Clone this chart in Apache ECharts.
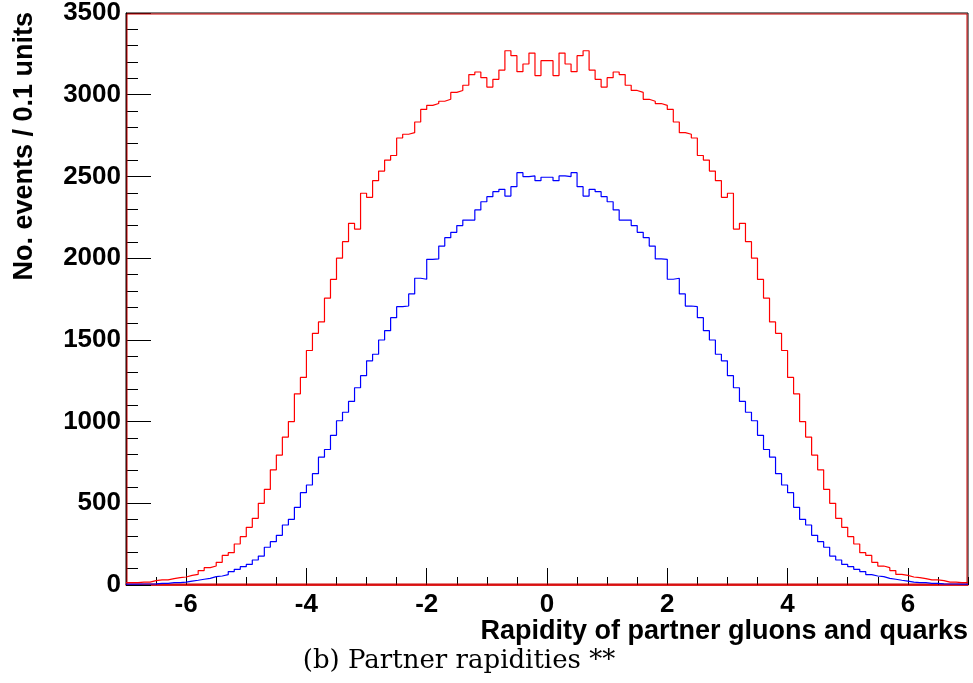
<!DOCTYPE html>
<html>
<head>
<meta charset="utf-8">
<script src="https://cdn.jsdelivr.net/npm/echarts@6/dist/echarts.min.js"></script>
<style>
  html, body { margin: 0; padding: 0; background: #ffffff; }
  #chart { width: 973px; height: 683px; }
</style>
</head>
<body>
<div id="chart"></div>
<script>
// Histogram binning: 140 bins of 0.1 units from -7 to 7
const binLow = -7;
const binWidth = 0.1;

// Red histogram (counts per 0.1 units)
const redCounts = [
  14, 14, 18, 18, 27, 31, 31, 39, 45, 49,
  59, 65, 88, 106, 116, 139, 181, 198, 251, 296,
  353, 408, 500, 585, 705, 795, 905, 1000, 1170, 1270,
  1435, 1540, 1610, 1755, 1870, 2000, 2101, 2213, 2178, 2397,
  2372, 2474, 2533, 2600, 2628, 2735, 2758, 2768, 2833, 2910,
  2935, 2946, 2960, 2972, 3014, 3026, 3058, 3123, 3139, 3104,
  3047, 3094, 3151, 3269, 3239, 3141, 3188, 3255, 3117, 3208,
  3208, 3117, 3255, 3188, 3141, 3239, 3269, 3151, 3094, 3047,
  3104, 3139, 3123, 3058, 3026, 3014, 2972, 2960, 2946, 2935,
  2910, 2833, 2768, 2758, 2735, 2628, 2600, 2533, 2474, 2372,
  2397, 2178, 2213, 2101, 2000, 1870, 1755, 1610, 1540, 1435,
  1270, 1170, 1000, 905, 795, 705, 585, 500, 408, 353,
  296, 251, 198, 181, 139, 116, 106, 88, 65, 59,
  49, 45, 39, 31, 31, 27, 18, 18, 14, 14
];

// Blue histogram (counts per 0.1 units)
const blueCounts = [
  5, 5, 6, 6, 7, 10, 10, 14, 14, 18,
  24, 29, 35, 41, 51, 55, 63, 82, 96, 112,
  126, 153, 177, 231, 265, 304, 367, 402, 475, 565,
  612, 681, 782, 829, 916, 1005, 1057, 1123, 1207, 1281,
  1372, 1412, 1499, 1556, 1636, 1703, 1707, 1781, 1877, 1871,
  1993, 1995, 2074, 2125, 2158, 2199, 2233, 2233, 2295, 2345,
  2376, 2407, 2421, 2380, 2437, 2523, 2499, 2503, 2474, 2495,
  2495, 2474, 2503, 2499, 2523, 2437, 2380, 2421, 2407, 2376,
  2345, 2295, 2233, 2233, 2199, 2158, 2125, 2074, 1995, 1993,
  1871, 1877, 1781, 1707, 1703, 1636, 1556, 1499, 1412, 1372,
  1281, 1207, 1123, 1057, 1005, 916, 829, 782, 681, 612,
  565, 475, 402, 367, 304, 265, 231, 177, 153, 126,
  112, 96, 82, 63, 55, 51, 41, 35, 29, 24,
  18, 14, 14, 10, 10, 7, 6, 6, 5, 5
];

// Tick labels
const xTickValues = [-6, -4, -2, 0, 2, 4, 6];
const yTickValues = [0, 500, 1000, 1500, 2000, 2500, 3000, 3500];

const xTitle = 'Rapidity of partner gluons and quarks';
const yTitle = 'No. events / 0.1 units';
const caption = '(b) Partner rapidities **';

function toSteps(counts) {
  const pts = counts.map((v, i) => [+(binLow + i * binWidth).toFixed(2), v]);
  pts.push([+(binLow + counts.length * binWidth).toFixed(2), counts[counts.length - 1]]);
  return pts;
}

const sansBold = { fontFamily: 'Liberation Sans, Arial, Helvetica, sans-serif', fontWeight: 'bold', color: '#000' };

const chart = echarts.init(document.getElementById('chart'), null, { renderer: 'canvas' });
chart.setOption({
  animation: false,
  backgroundColor: '#ffffff',
  grid: {
    left: 126, right: 5, top: 13, bottom: 98,
    show: true, borderColor: '#000', borderWidth: 1, backgroundColor: 'transparent',
    containLabel: false, outerBoundsMode: 'none'
  },
  xAxis: [
    {
      type: 'value', min: -7, max: 7, interval: 0.5, position: 'bottom',
      axisLine: { show: true, onZero: false, lineStyle: { color: '#ff0000', width: 1.5 } },
      axisTick: { show: true, inside: true, length: 17, customValues: xTickValues, lineStyle: { color: '#000', width: 1 } },
      axisLabel: Object.assign({ customValues: xTickValues, fontSize: 26, margin: 7, formatter: v => String(v) }, sansBold),
      splitLine: { show: false }
    },
    {
      type: 'value', min: -7, max: 7, interval: 0.5, position: 'bottom',
      axisLine: { show: false, onZero: false },
      axisTick: { show: true, inside: true, length: 8, lineStyle: { color: '#000', width: 1 } },
      axisLabel: { show: false },
      splitLine: { show: false }
    }
  ],
  yAxis: {
    type: 'value', min: 0, max: 3500, interval: 500, position: 'left',
    axisLine: { show: true, onZero: false, lineStyle: { color: '#000', width: 1 } },
    axisTick: { show: true, inside: true, length: 25, lineStyle: { color: '#000', width: 1 } },
    minorTick: { show: true, splitNumber: 5, length: 12, lineStyle: { color: '#000', width: 1 } },
    axisLabel: Object.assign({ fontSize: 26, margin: 5, customValues: yTickValues, formatter: v => String(v) }, sansBold),
    splitLine: { show: false }
  },
  series: [
    {
      name: 'blue', type: 'line', step: 'end', xAxisIndex: 0,
      data: toSteps(blueCounts), showSymbol: false, symbol: 'none',
      lineStyle: { color: '#0000ff', width: 1.2 }, itemStyle: { color: '#0000ff' }, z: 3
    },
    {
      name: 'red', type: 'line', step: 'end', xAxisIndex: 0,
      data: toSteps(redCounts), showSymbol: false, symbol: 'none',
      lineStyle: { color: '#ff0000', width: 1.2 }, itemStyle: { color: '#ff0000' }, z: 4
    }
  ],
  graphic: [
    {
      type: 'rect', silent: true, z: 1,
      shape: { x: 127, y: 14, width: 840, height: 570 },
      style: { fill: 'none', stroke: '#cc0000', lineWidth: 1 }
    },
    {
      type: 'text', x: 25, y: 12, rotation: Math.PI / 2,
      style: {
        text: yTitle, font: 'bold 27px "Liberation Sans", Arial, sans-serif', fill: '#000',
        align: 'right', textAlign: 'right', verticalAlign: 'middle', textVerticalAlign: 'middle'
      }
    },
    {
      type: 'text', x: 968, y: 632,
      style: {
        text: xTitle, font: 'bold 27px "Liberation Sans", Arial, sans-serif', fill: '#000',
        align: 'right', textAlign: 'right', verticalAlign: 'middle', textVerticalAlign: 'middle'
      }
    },
    {
      type: 'text', x: 459, y: 661,
      style: {
        text: caption, font: '26px "DejaVu Serif", "Liberation Serif", serif', fill: '#000',
        align: 'center', textAlign: 'center', verticalAlign: 'middle', textVerticalAlign: 'middle'
      }
    }
  ]
});
</script>
</body>
</html>
